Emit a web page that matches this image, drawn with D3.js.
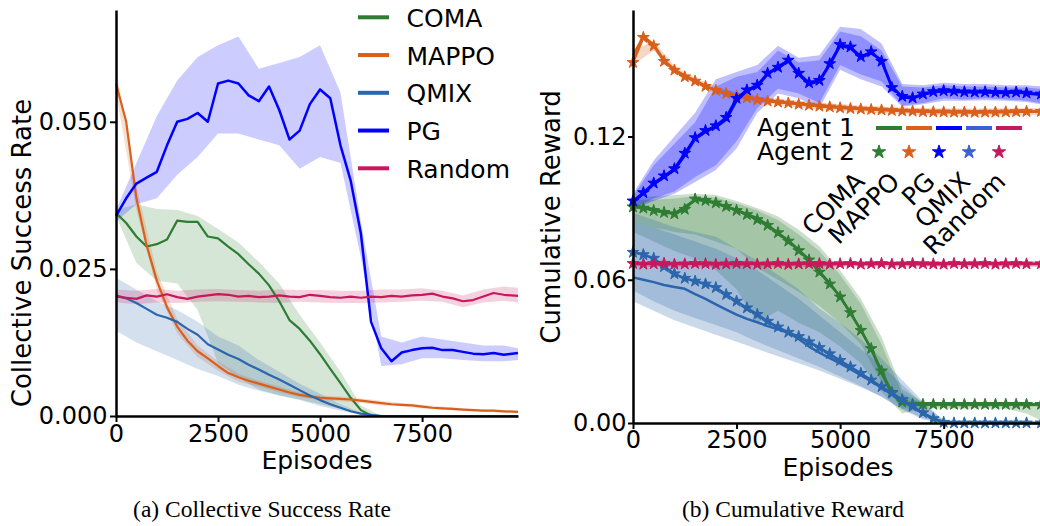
<!DOCTYPE html>
<html>
<head>
<meta charset="utf-8">
<script src="https://cdn.jsdelivr.net/npm/d3@7"></script>
<style>
  body { margin: 0; background: #fff; }
</style>
</head>
<body>
<script>
// ---- values ----
const algorithms = ["COMA", "MAPPO", "QMIX", "PG", "Random"];
const colors = ["#2e7d32", "#d95f1b", "#2b66ad", "#0000ff", "#c8185c"];
const legendColorsB = ["#2e7d32", "#d95f1b", "#0000ff", "#3a5fd6", "#c8185c"];
const legendNamesB = ["COMA", "MAPPO", "PG", "QMIX", "Random"];

const episodes = [0, 250, 500, 750, 1000, 1250, 1500, 1750, 2000, 2250,
  2500, 2750, 3000, 3250, 3500, 3750, 4000, 4250, 4500, 4750,
  5000, 5250, 5500, 5750, 6000, 6250, 6500, 6750, 7000, 7250,
  7500, 7750, 8000, 8250, 8500, 8750, 9000, 9250, 9500, 9850];
const bandEpisodes = [0, 500, 1000, 1500, 2000, 2500, 3000, 3500, 4000, 4500,
  5000, 5500, 6000, 6500, 7000, 7500, 8000, 8500, 9000, 9500, 9850];

// (a) collective success rate
const comaSuccess = [0.0345, 0.0328, 0.0305, 0.0288, 0.0292, 0.0300, 0.0332, 0.0330, 0.0330, 0.0305,
  0.0302, 0.0288, 0.0275, 0.0258, 0.0242, 0.0222, 0.0195, 0.0163, 0.0148, 0.0128,
  0.0105, 0.0080, 0.0056, 0.0031, 0.0010, 0.0001, 0, 0, 0, 0,
  0, 0, 0, 0, 0, 0, 0, 0, 0, 0];
const comaSuccessLo = [0.0340, 0.0260, 0.0230, 0.0225, 0.0180, 0.0090, 0.0065, 0.0045, 0.0035, 0.0028,
  0.0020, 0.0012, 0.0003, 0, 0, 0, 0, 0, 0, 0, 0];
const comaSuccessHi = [0.0350, 0.0360, 0.0352, 0.0350, 0.0340, 0.0318, 0.0295, 0.0262, 0.0225, 0.0172,
  0.0125, 0.0075, 0.0018, 0, 0, 0, 0, 0, 0, 0, 0];

const mappoSuccess = [0.0565, 0.0500, 0.0370, 0.0290, 0.0230, 0.0185, 0.0152, 0.0128, 0.0110, 0.0098,
  0.0085, 0.0073, 0.0066, 0.0060, 0.0055, 0.0050, 0.0045, 0.0040, 0.0036, 0.0033,
  0.0031, 0.0030, 0.0029, 0.0028, 0.0026, 0.0024, 0.0022, 0.0020, 0.0019, 0.0018,
  0.0016, 0.0014, 0.0013, 0.0012, 0.0011, 0.0010, 0.0009, 0.0009, 0.0008, 0.0007];
const mappoSuccessLo = [0.0550, 0.0350, 0.0215, 0.0140, 0.0100, 0.0077, 0.0058, 0.0050, 0.0040, 0.0032,
  0.0027, 0.0025, 0.0022, 0.0018, 0.0016, 0.0013, 0.0010, 0.0009, 0.0007, 0.0006, 0.0005];
const mappoSuccessHi = [0.0590, 0.0390, 0.0245, 0.0165, 0.0120, 0.0093, 0.0072, 0.0060, 0.0050, 0.0040,
  0.0035, 0.0033, 0.0030, 0.0026, 0.0022, 0.0019, 0.0016, 0.0013, 0.0011, 0.0010, 0.0009];

const qmixSuccess = [0.0205, 0.0200, 0.0192, 0.0182, 0.0172, 0.0167, 0.0160, 0.0148, 0.0138, 0.0122,
  0.0113, 0.0104, 0.0097, 0.0087, 0.0079, 0.0070, 0.0062, 0.0053, 0.0044, 0.0035,
  0.0027, 0.0020, 0.0014, 0.0008, 0.0004, 0.0002, 0, 0, 0, 0,
  0, 0, 0, 0, 0, 0, 0, 0, 0, 0];
const qmixSuccessLo = [0.0145, 0.0125, 0.0110, 0.0095, 0.0080, 0.0068, 0.0053, 0.0043, 0.0035, 0.0027,
  0.0017, 0.0009, 0.0002, 0, 0, 0, 0, 0, 0, 0, 0];
const qmixSuccessHi = [0.0235, 0.0215, 0.0195, 0.0180, 0.0160, 0.0135, 0.0120, 0.0095, 0.0075, 0.0055,
  0.0038, 0.0020, 0.0006, 0.0001, 0, 0, 0, 0, 0, 0, 0];

const pgSuccess = [0.0340, 0.0370, 0.0395, 0.0405, 0.0415, 0.0460, 0.0500, 0.0505, 0.0515, 0.0500,
  0.0565, 0.0570, 0.0565, 0.0545, 0.0535, 0.0560, 0.0520, 0.0470, 0.0485, 0.0530,
  0.0555, 0.0540, 0.0460, 0.0400, 0.0310, 0.0160, 0.0115, 0.0093, 0.0108, 0.0112,
  0.0115, 0.0116, 0.0112, 0.0112, 0.0109, 0.0106, 0.0105, 0.0107, 0.0104, 0.0107];
const pgSuccessLo = [0.0330, 0.0360, 0.0370, 0.0410, 0.0440, 0.0480, 0.0480, 0.0470, 0.0460, 0.0420,
  0.0440, 0.0430, 0.0270, 0.0085, 0.0088, 0.0098, 0.0098, 0.0095, 0.0093, 0.0093, 0.0095];
const pgSuccessHi = [0.0350, 0.0430, 0.0510, 0.0570, 0.0610, 0.0630, 0.0645, 0.0590, 0.0600, 0.0610,
  0.0630, 0.0550, 0.0330, 0.0135, 0.0125, 0.0135, 0.0130, 0.0125, 0.0120, 0.0120, 0.0115];

const randomSuccess = [0.0203, 0.0201, 0.0199, 0.0205, 0.0203, 0.0207, 0.0202, 0.0199, 0.0203, 0.0205,
  0.0207, 0.0206, 0.0203, 0.0204, 0.0202, 0.0203, 0.0205, 0.0203, 0.0202, 0.0206,
  0.0204, 0.0202, 0.0201, 0.0203, 0.0201, 0.0203, 0.0202, 0.0204, 0.0203, 0.0205,
  0.0206, 0.0208, 0.0203, 0.0200, 0.0195, 0.0197, 0.0203, 0.0209, 0.0206, 0.0204];
const randomSuccessLo = [0.0193, 0.0190, 0.0193, 0.0192, 0.0194, 0.0195, 0.0194, 0.0193, 0.0192, 0.0194,
  0.0193, 0.0192, 0.0192, 0.0193, 0.0194, 0.0196, 0.0194, 0.0185, 0.0193, 0.0196, 0.0193];
const randomSuccessHi = [0.0215, 0.0213, 0.0216, 0.0213, 0.0215, 0.0216, 0.0214, 0.0213, 0.0215, 0.0214,
  0.0214, 0.0213, 0.0213, 0.0215, 0.0215, 0.0217, 0.0213, 0.0205, 0.0215, 0.0220, 0.0218];

// (b) cumulative reward: agent 1 (solid) and agent 2 (stars)
const comaReward1 = [0.0910, 0.0905, 0.0895, 0.0885, 0.0878, 0.0905, 0.0935, 0.0930, 0.0920, 0.0905,
  0.0893, 0.0875, 0.0858, 0.0830, 0.0795, 0.0765, 0.0725, 0.0685, 0.0635, 0.0585,
  0.0530, 0.0460, 0.0390, 0.0310, 0.0210, 0.0120, 0.0085, 0.0078, 0.0077, 0.0077,
  0.0077, 0.0077, 0.0077, 0.0077, 0.0077, 0.0077, 0.0077, 0.0077, 0.0077, 0.0077];
const comaReward2 = [0.0905, 0.0900, 0.0890, 0.0882, 0.0876, 0.0895, 0.0938, 0.0932, 0.0922, 0.0907,
  0.0890, 0.0873, 0.0852, 0.0828, 0.0797, 0.0762, 0.0722, 0.0683, 0.0632, 0.0582,
  0.0528, 0.0462, 0.0388, 0.0312, 0.0218, 0.0128, 0.0088, 0.0079, 0.0078, 0.0078,
  0.0078, 0.0078, 0.0078, 0.0078, 0.0078, 0.0078, 0.0078, 0.0078, 0.0078, 0.0078];
const comaReward1Lo = [0.0840, 0.0820, 0.0800, 0.0790, 0.0760, 0.0730, 0.0650, 0.0600, 0.0550, 0.0490,
  0.0420, 0.0330, 0.0170, 0.0060, 0.0068, 0.0068, 0.0068, 0.0068, 0.0068, 0.0068, 0.0068];
const comaReward1Hi = [0.0935, 0.0935, 0.0940, 0.0950, 0.0945, 0.0920, 0.0890, 0.0850, 0.0790, 0.0720,
  0.0620, 0.0500, 0.0330, 0.0120, 0.0085, 0.0085, 0.0085, 0.0085, 0.0085, 0.0085, 0.0085];
const comaReward2Lo = [0.0800, 0.0760, 0.0720, 0.0690, 0.0640, 0.0560, 0.0420, 0.0470, 0.0420, 0.0380,
  0.0320, 0.0250, 0.0130, 0.0040, 0.0060, 0.0062, 0.0060, 0.0062, 0.0060, 0.0040, 0.0010];
const comaReward2Hi = [0.0945, 0.0950, 0.0955, 0.0960, 0.0955, 0.0930, 0.0900, 0.0865, 0.0810, 0.0740,
  0.0640, 0.0520, 0.0360, 0.0140, 0.0088, 0.0088, 0.0088, 0.0088, 0.0088, 0.0088, 0.0085];

const mappoReward1 = [0.1540, 0.1620, 0.1585, 0.1520, 0.1480, 0.1455, 0.1435, 0.1412, 0.1395, 0.1382,
  0.1372, 0.1362, 0.1355, 0.1350, 0.1345, 0.1340, 0.1336, 0.1332, 0.1328, 0.1325,
  0.1322, 0.1319, 0.1316, 0.1314, 0.1312, 0.1310, 0.1308, 0.1306, 0.1305, 0.1304,
  0.1303, 0.1303, 0.1302, 0.1302, 0.1302, 0.1303, 0.1303, 0.1304, 0.1304, 0.1305];
const mappoReward2 = [0.1510, 0.1615, 0.1580, 0.1515, 0.1478, 0.1450, 0.1432, 0.1410, 0.1393, 0.1380,
  0.1370, 0.1362, 0.1354, 0.1348, 0.1344, 0.1340, 0.1335, 0.1331, 0.1327, 0.1324,
  0.1320, 0.1317, 0.1315, 0.1313, 0.1311, 0.1309, 0.1307, 0.1306, 0.1304, 0.1303,
  0.1303, 0.1302, 0.1302, 0.1301, 0.1302, 0.1302, 0.1303, 0.1304, 0.1305, 0.1305];
const mappoRewardLo = [0.1500, 0.1560, 0.1465, 0.1420, 0.1382, 0.1358, 0.1342, 0.1332, 0.1322, 0.1314,
  0.1308, 0.1302, 0.1298, 0.1294, 0.1290, 0.1288, 0.1287, 0.1287, 0.1288, 0.1289, 0.1290];
const mappoRewardHi = [0.1560, 0.1600, 0.1495, 0.1445, 0.1408, 0.1385, 0.1368, 0.1358, 0.1350, 0.1342,
  0.1336, 0.1330, 0.1326, 0.1322, 0.1320, 0.1318, 0.1317, 0.1317, 0.1318, 0.1319, 0.1320];

const qmixReward1 = [0.0610, 0.0600, 0.0590, 0.0578, 0.0570, 0.0562, 0.0540, 0.0520, 0.0497, 0.0475,
  0.0454, 0.0436, 0.0422, 0.0406, 0.0392, 0.0378, 0.0352, 0.0320, 0.0295, 0.0272,
  0.0250, 0.0225, 0.0200, 0.0175, 0.0148, 0.0120, 0.0092, 0.0066, 0.0042, 0.0018,
  0.0004, 0, 0, 0, 0, 0, 0, 0, 0, 0];
const qmixReward2 = [0.0715, 0.0705, 0.0690, 0.0655, 0.0625, 0.0606, 0.0594, 0.0582, 0.0567, 0.0538,
  0.0510, 0.0482, 0.0455, 0.0426, 0.0402, 0.0380, 0.0362, 0.0340, 0.0316, 0.0290,
  0.0262, 0.0235, 0.0208, 0.0180, 0.0152, 0.0125, 0.0098, 0.0070, 0.0043, 0.0018,
  0.0003, 0, 0, 0, 0, 0, 0, 0, 0, 0];
const qmixReward1Lo = [0.0510, 0.0470, 0.0430, 0.0400, 0.0370, 0.0340, 0.0310, 0.0280, 0.0250, 0.0220,
  0.0185, 0.0150, 0.0110, 0.0060, 0.0020, 0, 0, 0, 0, 0, 0];
const qmixReward1Hi = [0.0880, 0.0850, 0.0820, 0.0800, 0.0780, 0.0730, 0.0680, 0.0620, 0.0560, 0.0480,
  0.0420, 0.0350, 0.0270, 0.0180, 0.0090, 0.0010, 0, 0, 0, 0, 0];
const qmixReward2Lo = [0.0555, 0.0510, 0.0470, 0.0440, 0.0410, 0.0380, 0.0340, 0.0305, 0.0270, 0.0235,
  0.0195, 0.0155, 0.0110, 0.0055, 0.0015, 0, 0, 0, 0, 0, 0];
const qmixReward2Hi = [0.0840, 0.0820, 0.0790, 0.0760, 0.0730, 0.0690, 0.0640, 0.0580, 0.0520, 0.0450,
  0.0380, 0.0310, 0.0240, 0.0160, 0.0080, 0.0010, 0, 0, 0, 0, 0];

const pgReward1 = [0.0925, 0.0960, 0.1000, 0.1030, 0.1060, 0.1120, 0.1190, 0.1220, 0.1240, 0.1270,
  0.1350, 0.1390, 0.1410, 0.1460, 0.1495, 0.1515, 0.1460, 0.1420, 0.1430, 0.1500,
  0.1580, 0.1570, 0.1530, 0.1550, 0.1520, 0.1410, 0.1365, 0.1360, 0.1375, 0.1385,
  0.1390, 0.1388, 0.1385, 0.1385, 0.1385, 0.1383, 0.1382, 0.1385, 0.1380, 0.1375];
const pgReward2 = [0.0930, 0.0965, 0.1005, 0.1035, 0.1065, 0.1130, 0.1195, 0.1225, 0.1245, 0.1280,
  0.1360, 0.1395, 0.1415, 0.1465, 0.1490, 0.1520, 0.1465, 0.1425, 0.1435, 0.1505,
  0.1585, 0.1575, 0.1535, 0.1555, 0.1515, 0.1405, 0.1368, 0.1362, 0.1378, 0.1388,
  0.1392, 0.1390, 0.1387, 0.1386, 0.1387, 0.1385, 0.1384, 0.1386, 0.1382, 0.1378];
const pgReward1Lo = [0.0900, 0.0940, 0.0970, 0.1030, 0.1080, 0.1180, 0.1320, 0.1400, 0.1380, 0.1340,
  0.1500, 0.1460, 0.1430, 0.1330, 0.1340, 0.1360, 0.1355, 0.1360, 0.1355, 0.1350, 0.1340];
const pgReward1Hi = [0.0950, 0.1080, 0.1170, 0.1260, 0.1410, 0.1450, 0.1470, 0.1560, 0.1510, 0.1520,
  0.1640, 0.1620, 0.1560, 0.1410, 0.1405, 0.1415, 0.1410, 0.1410, 0.1405, 0.1405, 0.1400];
const pgReward2Lo = [0.0895, 0.0930, 0.0960, 0.1010, 0.1060, 0.1150, 0.1300, 0.1380, 0.1360, 0.1320,
  0.1480, 0.1440, 0.1410, 0.1325, 0.1335, 0.1350, 0.1350, 0.1352, 0.1350, 0.1345, 0.1335];
const pgReward2Hi = [0.0960, 0.1100, 0.1200, 0.1300, 0.1440, 0.1470, 0.1500, 0.1580, 0.1530, 0.1540,
  0.1660, 0.1650, 0.1590, 0.1420, 0.1415, 0.1425, 0.1420, 0.1420, 0.1415, 0.1415, 0.1410];

const randomReward1 = [0.0665, 0.0668, 0.0666, 0.0664, 0.0667, 0.0669, 0.0666, 0.0665, 0.0668, 0.0667,
  0.0664, 0.0666, 0.0668, 0.0667, 0.0665, 0.0666, 0.0668, 0.0666, 0.0664, 0.0667,
  0.0665, 0.0666, 0.0667, 0.0665, 0.0666, 0.0668, 0.0667, 0.0665, 0.0666, 0.0664,
  0.0667, 0.0666, 0.0668, 0.0665, 0.0666, 0.0667, 0.0666, 0.0665, 0.0667, 0.0666];
const randomReward2 = [0.0668, 0.0665, 0.0667, 0.0669, 0.0665, 0.0666, 0.0668, 0.0667, 0.0664, 0.0666,
  0.0668, 0.0667, 0.0665, 0.0666, 0.0668, 0.0664, 0.0666, 0.0667, 0.0668, 0.0665,
  0.0667, 0.0668, 0.0665, 0.0667, 0.0668, 0.0665, 0.0666, 0.0668, 0.0667, 0.0666,
  0.0665, 0.0668, 0.0666, 0.0667, 0.0668, 0.0665, 0.0667, 0.0668, 0.0666, 0.0667];
const randomRewardLo = [0.0654, 0.0655, 0.0653, 0.0655, 0.0654, 0.0653, 0.0655, 0.0654, 0.0655, 0.0653,
  0.0654, 0.0655, 0.0654, 0.0653, 0.0655, 0.0654, 0.0653, 0.0655, 0.0654, 0.0653, 0.0655];
const randomRewardHi = [0.0678, 0.0679, 0.0677, 0.0678, 0.0679, 0.0678, 0.0677, 0.0679, 0.0678, 0.0677,
  0.0679, 0.0678, 0.0677, 0.0679, 0.0678, 0.0677, 0.0679, 0.0678, 0.0678, 0.0679, 0.0678];

// ---- series tables built from the arrays ----
const successSeries = [
  { mean: comaSuccess, lo: comaSuccessLo, hi: comaSuccessHi },
  { mean: mappoSuccess, lo: mappoSuccessLo, hi: mappoSuccessHi },
  { mean: qmixSuccess, lo: qmixSuccessLo, hi: qmixSuccessHi },
  { mean: pgSuccess, lo: pgSuccessLo, hi: pgSuccessHi },
  { mean: randomSuccess, lo: randomSuccessLo, hi: randomSuccessHi },
].map((s, i) => ({ ...s, color: colors[i] }));

const rewardSeries = [
  { agent1: comaReward1, agent2: comaReward2, bands: [[comaReward1Lo, comaReward1Hi], [comaReward2Lo, comaReward2Hi]] },
  { agent1: mappoReward1, agent2: mappoReward2, bands: [[mappoRewardLo, mappoRewardHi]] },
  { agent1: qmixReward1, agent2: qmixReward2, bands: [[qmixReward1Lo, qmixReward1Hi], [qmixReward2Lo, qmixReward2Hi]] },
  { agent1: pgReward1, agent2: pgReward2, bands: [[pgReward1Lo, pgReward1Hi], [pgReward2Lo, pgReward2Hi]] },
  { agent1: randomReward1, agent2: randomReward2, bands: [[randomRewardLo, randomRewardHi]] },
].map((s, i) => ({ ...s, color: colors[i] }));

// ---- drawing ----
const width = 1040, height = 526;
const svg = d3.select("body").append("svg")
  .attr("width", width).attr("height", height)
  .attr("font-family", "DejaVu Sans, sans-serif");

function drawBand(g, x, y, lo, hi, color, alpha) {
  const area = d3.area()
    .x((d, i) => x(bandEpisodes[i]))
    .y0(d => y(d[0]))
    .y1(d => y(d[1]));
  g.append("path").datum(d3.zip(lo, hi))
    .attr("d", area).attr("fill", color).attr("fill-opacity", alpha);
}

function drawLine(g, x, y, values, color, w) {
  const line = d3.line().x((d, i) => x(episodes[i])).y(d => y(d));
  g.append("path").datum(values)
    .attr("d", line).attr("fill", "none")
    .attr("stroke", color).attr("stroke-width", w)
    .attr("stroke-linejoin", "round");
}

function drawStars(g, x, y, values, color, size) {
  g.append("g").selectAll("path").data(values).enter().append("path")
    .attr("d", d3.symbol().type(d3.symbolStar).size(size))
    .attr("transform", (d, i) => `translate(${x(episodes[i])},${y(d)})`)
    .attr("fill", color).attr("stroke", color).attr("stroke-width", 1)
    .attr("stroke-linejoin", "round");
}

function styleAxis(sel) {
  sel.attr("font-family", null).attr("font-size", null);
  sel.select(".domain").attr("stroke", "#000").attr("stroke-width", 2.5);
  sel.selectAll(".tick line").attr("stroke", "#000").attr("stroke-width", 2);
  sel.selectAll(".tick text").attr("fill", "#000").attr("font-size", 24);
}

// ---------- panel (a) ----------
const xA = d3.scaleLinear().domain([0, 9850]).range([116, 518]);
const yA = d3.scaleLinear().domain([0, 0.069]).range([416, 10]);
const gA = svg.append("g");

successSeries.forEach(s => drawBand(gA, xA, yA, s.lo, s.hi, s.color, 0.2));
successSeries.forEach((s, i) => drawLine(gA, xA, yA, s.mean, s.color, i === 3 ? 2.5 : 2.2));

gA.append("g").attr("transform", "translate(0,416)")
  .call(d3.axisBottom(xA).tickValues([0, 2500, 5000, 7500]).tickFormat(d3.format("d"))
    .tickSize(6).tickSizeOuter(0).tickPadding(3))
  .call(styleAxis);
gA.append("g").attr("transform", "translate(116,0)")
  .call(d3.axisLeft(yA).tickValues([0, 0.025, 0.05]).tickFormat(d3.format(".3f"))
    .tickSize(6).tickSizeOuter(0).tickPadding(2.5))
  .call(styleAxis);

gA.append("text").attr("transform", "translate(31,253) rotate(-90)")
  .attr("text-anchor", "middle").attr("font-size", 26).text("Collective Success Rate");
gA.append("text").attr("x", 317).attr("y", 469)
  .attr("text-anchor", "middle").attr("font-size", 25).text("Episodes");

// legend (a)
const legA = gA.append("g");
algorithms.forEach((name, i) => {
  const ly = 17.3 + i * 37.75;
  legA.append("line").attr("x1", 358).attr("x2", 389).attr("y1", ly).attr("y2", ly)
    .attr("stroke", colors[i]).attr("stroke-width", 4);
  legA.append("text").attr("x", 406.5).attr("y", ly + 9.5)
    .attr("font-size", 25).text(name);
});

svg.append("text").attr("x", 262).attr("y", 517).attr("text-anchor", "middle")
  .attr("font-family", "Liberation Serif, Times New Roman, serif").attr("font-size", 23.5)
  .text("(a) Collective Success Rate");

// ---------- panel (b) ----------
const xB = d3.scaleLinear().domain([0, 9850]).range([633, 1041]);
const yB = d3.scaleLinear().domain([0, 0.173]).range([423, 10]);
const gB = svg.append("g");

rewardSeries.forEach(s => s.bands.forEach(b => drawBand(gB, xB, yB, b[0], b[1], s.color, 0.25)));
rewardSeries.forEach(s => {
  drawLine(gB, xB, yB, s.agent1, s.color, 2.5);
  drawLine(gB, xB, yB, s.agent2, s.color, 2.5);
  drawStars(gB, xB, yB, s.agent2, s.color, 42);
});

gB.append("g").attr("transform", "translate(0,423)")
  .call(d3.axisBottom(xB).tickValues([0, 2500, 5000, 7500]).tickFormat(d3.format("d"))
    .tickSize(6).tickSizeOuter(0).tickPadding(2))
  .call(styleAxis);
gB.append("g").attr("transform", "translate(633,0)")
  .call(d3.axisLeft(yB).tickValues([0, 0.06, 0.12]).tickFormat(d3.format(".2f"))
    .tickSize(5).tickSizeOuter(0).tickPadding(1.5))
  .call(styleAxis);

gB.append("text").attr("transform", "translate(560,217) rotate(-90)")
  .attr("text-anchor", "middle").attr("font-size", 26).text("Cumulative Reward");
gB.append("text").attr("x", 838).attr("y", 476)
  .attr("text-anchor", "middle").attr("font-size", 25).text("Episodes");

// legend (b): agent rows with one column per algorithm
const legB = gB.append("g");
legB.append("text").attr("x", 757).attr("y", 136).attr("font-size", 25).text("Agent 1");
legB.append("text").attr("x", 757).attr("y", 160).attr("font-size", 25).text("Agent 2");
legendNamesB.forEach((name, i) => {
  const cx = 876 + i * 30;
  legB.append("line").attr("x1", cx).attr("x2", cx + 26).attr("y1", 128).attr("y2", 128)
    .attr("stroke", legendColorsB[i]).attr("stroke-width", 4);
  legB.append("path").attr("d", d3.symbol().type(d3.symbolStar).size(56))
    .attr("transform", `translate(${cx + 3},152)`).attr("fill", legendColorsB[i])
    .attr("stroke", legendColorsB[i]).attr("stroke-width", 1).attr("stroke-linejoin", "round");
  legB.append("text").attr("transform", `translate(${866 + i * 35.25},183) rotate(-45)`)
    .attr("text-anchor", "end").attr("font-size", 25).text(name);
});

svg.append("text").attr("x", 793).attr("y", 517).attr("text-anchor", "middle")
  .attr("font-family", "Liberation Serif, Times New Roman, serif").attr("font-size", 23.5)
  .text("(b) Cumulative Reward");
</script>
</body>
</html>
